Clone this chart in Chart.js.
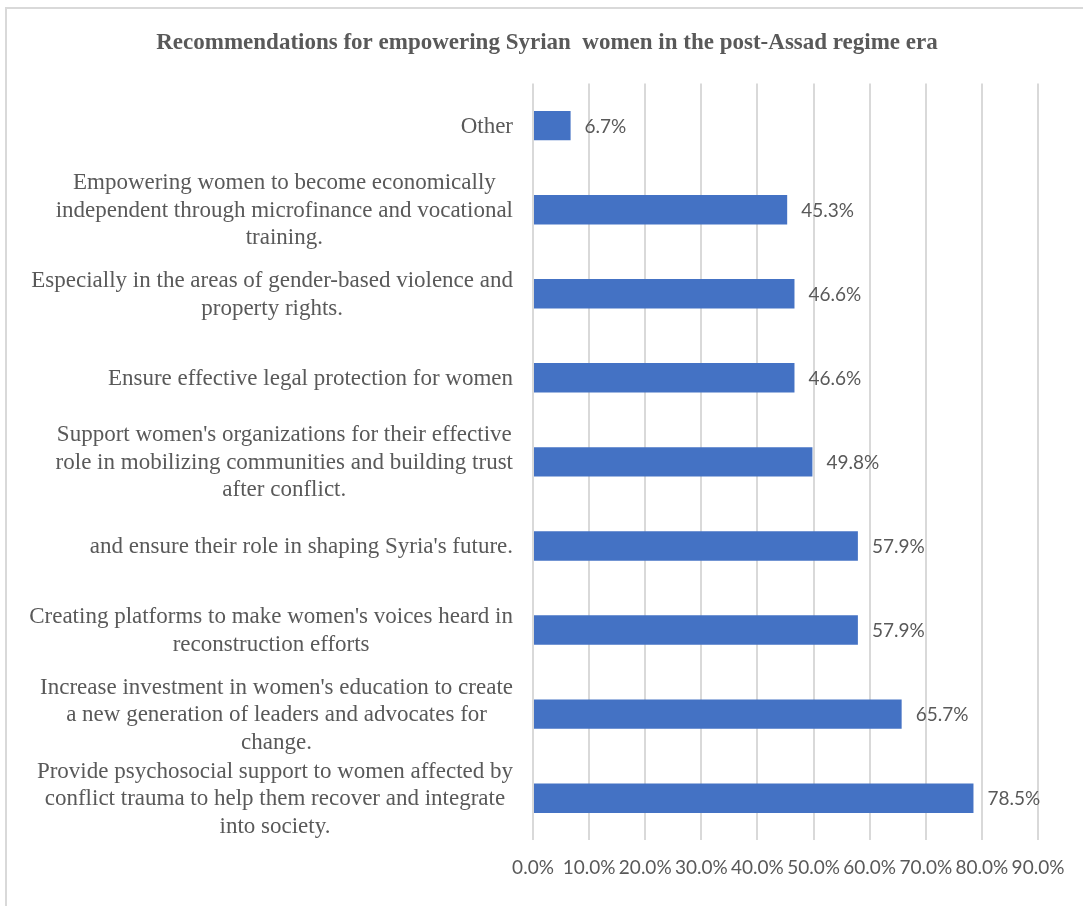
<!DOCTYPE html>
<html>
<head>
<meta charset="utf-8">
<script src="https://cdn.jsdelivr.net/npm/chart.js@4.4.1/dist/chart.umd.min.js"></script>
<style>
    html, body { margin: 0; padding: 0; background: #fff; overflow: hidden; }
    .frame {
        position: absolute; left: 5px; top: 7px;
        width: 1200px; height: 1000px;
        border: 2px solid #d9d9d9;
    }
    .chart-box { position: absolute; left: 0; top: 0; width: 1083px; height: 906px; }
</style>
</head>
<body>
<div class="frame"></div>
<div class="chart-box"><canvas id="miGrafico"></canvas></div>
<script>
const titulo = 'Recommendations for empowering Syrian  women in the post-Assad regime era';

// each category is split into the lines it is printed on
const categorias = [
    ['Other'],
    ['Empowering women to become economically', 'independent through microfinance and vocational', 'training.'],
    ['Especially in the areas of gender-based violence and', 'property rights.'],
    ['Ensure effective legal protection for women'],
    ["Support women's organizations for their effective", 'role in mobilizing communities and building trust', 'after conflict.'],
    ["and ensure their role in shaping Syria's future."],
    ["Creating platforms to make women's voices heard in", 'reconstruction efforts'],
    ["Increase investment in women's education to create", 'a new generation of leaders and advocates for', 'change.'],
    ['Provide psychosocial support to women affected by', 'conflict trauma to help them recover and integrate', 'into society.']
];

const porcentajes = [6.7, 45.3, 46.6, 46.6, 49.8, 57.9, 57.9, 65.7, 78.5];

const ejeMin = 0;
const ejeMax = 90;
const ejePaso = 10;

const gris = '#595959';
const fuenteSans = 'Lato';
const fuenteSerif = '"Liberation Serif", "Times New Roman", serif';

// value labels next to the bars and the multi-line category labels
const textosBarras = {
    id: 'textosBarras',
    afterDatasetsDraw(chart) {
        const ctx = chart.ctx;
        const meta = chart.getDatasetMeta(0);
        const yScale = chart.scales.y;
        ctx.save();
        ctx.fillStyle = gris;
        ctx.textBaseline = 'middle';

        ctx.font = '19px ' + fuenteSans;
        ctx.textAlign = 'left';
        meta.data.forEach((bar, i) => {
            ctx.fillText(porcentajes[i].toFixed(1) + '%', bar.x + 14, bar.y + 1);
        });

        ctx.font = '23px ' + fuenteSerif;
        ctx.textAlign = 'center';
        const derecha = yScale.right - 20;
        const alto = 27.5;
        categorias.forEach((lineas, i) => {
            const ancho = Math.max(...lineas.map(l => ctx.measureText(l).width));
            const cx = derecha - ancho / 2;
            const cy = yScale.getPixelForTick(i) + 1;
            lineas.forEach((linea, j) => {
                ctx.fillText(linea, cx, cy + (j - (lineas.length - 1) / 2) * alto);
            });
        });
        ctx.restore();
    }
};

document.addEventListener('DOMContentLoaded', () => {
    const ctx = document.getElementById('miGrafico').getContext('2d');

    new Chart(ctx, {
        type: 'bar',
        data: {
            labels: categorias,
            datasets: [{
                data: porcentajes,
                backgroundColor: '#4472C4',
                borderWidth: 0,
                barPercentage: 0.35,
                categoryPercentage: 1
            }]
        },
        options: {
            indexAxis: 'y',
            responsive: true,
            maintainAspectRatio: false,
            animation: false,
            // left padding keeps the title centred over the whole frame
            layout: { padding: { left: 56, right: 45, top: 0, bottom: 11 } },
            plugins: {
                legend: { display: false },
                tooltip: { enabled: false },
                title: {
                    display: true,
                    text: titulo,
                    color: gris,
                    font: { family: fuenteSerif, size: 23, weight: 'bold', lineHeight: 1.2 },
                    padding: { top: 29, bottom: 27 }
                }
            },
            scales: {
                x: {
                    min: ejeMin,
                    max: ejeMax,
                    grid: { color: '#d9d9d9', lineWidth: 2, drawTicks: false },
                    border: { display: false },
                    ticks: {
                        stepSize: ejePaso,
                        padding: 16,
                        color: gris,
                        font: { family: fuenteSans, size: 19 },
                        maxRotation: 0,
                        callback: (v) => v.toFixed(1) + '%'
                    }
                },
                y: {
                    grid: { display: false },
                    border: { display: false },
                    ticks: { display: false },
                    afterFit: (scale) => { scale.width = 533 - 56; }
                }
            }
        },
        plugins: [textosBarras]
    });
});
</script>
</body>
</html>
